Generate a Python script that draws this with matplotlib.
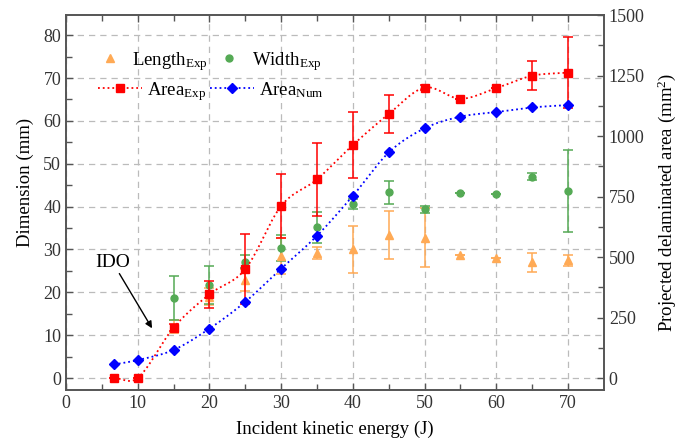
import numpy as np
import matplotlib
matplotlib.use("Agg")
import matplotlib.pyplot as plt
from matplotlib.lines import Line2D

plt.rcParams['font.family'] = ['Liberation Serif', 'DejaVu Serif']
plt.rcParams['mathtext.fontset'] = 'custom'
plt.rcParams['mathtext.rm'] = 'Liberation Serif'
plt.rcParams['mathtext.it'] = 'Liberation Serif:italic'

# Incident energies (J)
energy = [6.7, 10, 15, 20, 25, 30, 35, 40, 45, 50, 55, 60, 65, 70]
energy_exp = [15, 20, 25, 30, 35, 40, 45, 50, 55, 60, 65, 70]

# Measured dimensions (mm)
length_exp = [12.0, 19.0, 22.9, 28.5, 29.1, 30.0, 33.3, 32.7, 28.8, 27.9, 27.0, 27.5]
length_err = [1.5, 2.0, 2.5, 4.2, 1.4, 5.4, 5.6, 6.9, 0.0, 0.0, 2.2, 1.3]
width_exp = [18.7, 21.7, 27.1, 30.4, 35.2, 40.6, 43.3, 39.4, 43.2, 42.9, 47.0, 43.6]
width_err = [5.1, 4.4, 1.5, 3.0, 3.6, 1.2, 2.7, 0.8, 0.0, 0.0, 0.8, 9.5]

# Projected delaminated area (mm^2)
area_exp = [0, 0, 208, 346, 450, 711, 821, 963, 1091, 1200, 1154, 1198, 1249, 1262]
area_err = [0, 0, 14, 55, 145, 131, 150, 136, 80, 10, 0, 0, 59, 147]
area_num = [56, 74, 116, 204, 315, 452, 588, 753, 932, 1032, 1080, 1099, 1118, 1128]

C_RED = '#ff0000'
C_BLUE = '#0000ff'
C_GREEN = '#55aa55'
C_ORANGE = '#ffaa55'
C_SPINE = '#555555'


def smooth(x, y, n=400):
    """Cubic Hermite curve through the points with centred-difference slopes."""
    x = np.asarray(x, float)
    y = np.asarray(y, float)
    m = np.empty_like(y)
    m[1:-1] = (y[2:] - y[:-2]) / (x[2:] - x[:-2])
    m[0] = (y[1] - y[0]) / (x[1] - x[0])
    m[-1] = (y[-1] - y[-2]) / (x[-1] - x[-2])
    xs = np.linspace(x[0], x[-1], n)
    idx = np.clip(np.searchsorted(x, xs) - 1, 0, len(x) - 2)
    h = x[idx + 1] - x[idx]
    t = (xs - x[idx]) / h
    h00 = 2 * t**3 - 3 * t**2 + 1
    h10 = t**3 - 2 * t**2 + t
    h01 = -2 * t**3 + 3 * t**2
    h11 = t**3 - t**2
    ys = h00 * y[idx] + h10 * h * m[idx] + h01 * y[idx + 1] + h11 * h * m[idx + 1]
    return xs, ys


fig = plt.figure(figsize=(6.91, 4.43), dpi=100)
ax = fig.add_axes([0.0955, 0.1196, 0.7785, 0.8465])
ax2 = ax.twinx()

# Left axis: dimensions
ax.errorbar(energy_exp, length_exp, yerr=length_err, fmt='^', color=C_ORANGE,
            ms=5.5, capsize=3.5, elinewidth=1.1, capthick=1.1, zorder=3)
ax.errorbar(energy_exp, width_exp, yerr=width_err, fmt='o', color=C_GREEN,
            ms=5, capsize=3.5, elinewidth=1.1, capthick=1.1, zorder=3)

# Right axis: areas
xs, ys = smooth(energy, area_exp)
ax2.plot(xs, ys, ':', color=C_RED, lw=1.3, zorder=2)
ax2.errorbar(energy, area_exp, yerr=area_err, fmt='s', color=C_RED,
             ms=6, capsize=3.5, elinewidth=1.1, capthick=1.1, zorder=4)
xs, ys = smooth(energy, area_num)
ax2.plot(xs, ys, ':', color=C_BLUE, lw=1.3, zorder=2)
ax2.plot(energy, area_num, 'D', color=C_BLUE, ms=5.5, zorder=5)

ax.set_xlim(0, 75)
ax.set_ylim(-2.8, 84.7)
ax2.set_ylim(-49.6, 1500)

ax.set_xticks(np.arange(0, 71, 10))
ax.set_xticks(np.arange(5, 75, 5), minor=True)
ax.set_yticks(np.arange(0, 81, 10))
ax.set_yticks(np.arange(5, 85, 5), minor=True)
ax2.set_yticks(np.arange(0, 1501, 250))
ax2.set_yticks(np.arange(125, 1500, 250), minor=True)

ax.grid(True, which='major', ls=(0, (5, 4)), color='#bbbbbb', lw=0.9)
ax.set_axisbelow(True)

for a in (ax, ax2):
    for s in a.spines.values():
        s.set_color(C_SPINE)
        s.set_linewidth(1.2)
ax.tick_params(which='both', direction='in', top=True, color=C_SPINE,
               labelsize=13, labelcolor='#333333', width=1.0)
ax.tick_params(which='major', length=5)
ax.tick_params(which='minor', length=4)
ax2.tick_params(which='both', direction='in', color=C_SPINE,
                labelsize=13, labelcolor='#333333', width=1.0)
ax2.tick_params(which='major', length=5)
ax2.tick_params(which='minor', length=4)

ax.set_xlabel('Incident kinetic energy (J)', fontsize=13.5, labelpad=6)
ax.set_ylabel('Dimension (mm)', fontsize=13.5)
ax.yaxis.set_label_coords(-0.0595, 0.553)
ax2.set_ylabel('Projected delaminated area (mm$^2$)', fontsize=13.6, labelpad=8)

ax.annotate('IDO', xy=(12.0, 11.6), xytext=(6.5, 27.0), fontsize=14,
            ha='center', va='center',
            arrowprops=dict(arrowstyle='-|>', color='black', lw=1.0,
                            shrinkA=0, shrinkB=0, mutation_scale=10))

# Legend: experimental dimensions on the first row, areas on the second
row1 = ax2.legend(
    [Line2D([], [], ls='none', marker='^', color=C_ORANGE, ms=5.5),
     Line2D([], [], ls='none', marker='o', color=C_GREEN, ms=5)],
    ['Length$_{\\mathrm{Exp}}$', 'Width$_{\\mathrm{Exp}}$'],
    ncol=2, loc='center left', bbox_to_anchor=(0.064, 0.877),
    frameon=False, fontsize=13.5, handlelength=1.0, handletextpad=0.71,
    columnspacing=0.62, borderpad=0, borderaxespad=0)
ax2.add_artist(row1)
ax2.legend(
    [Line2D([], [], ls=':', marker='s', color=C_RED, ms=6, lw=1.3),
     Line2D([], [], ls=':', marker='D', color=C_BLUE, ms=5.5, lw=1.3)],
    ['Area$_{\\mathrm{Exp}}$', 'Area$_{\\mathrm{Num}}$'],
    ncol=2, loc='center left', bbox_to_anchor=(0.0595, 0.797),
    frameon=False, fontsize=13.5, handlelength=2.35, handletextpad=0.27,
    columnspacing=0.18, borderpad=0, borderaxespad=0)

fig.savefig('out.png', dpi=100)
